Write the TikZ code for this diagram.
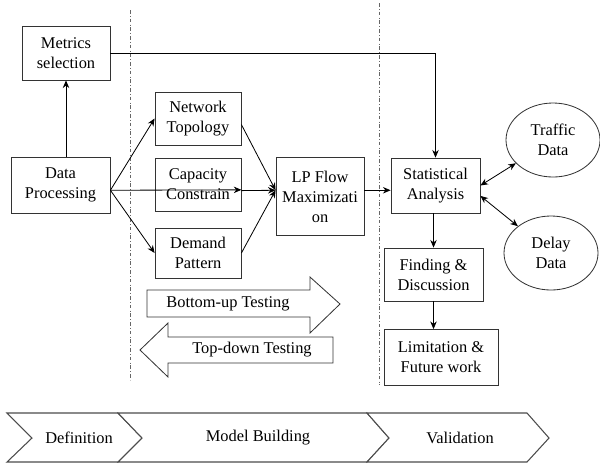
\documentclass[tikz,border=0pt]{standalone}
\usepackage{fontspec}
\setmainfont{Liberation Serif}
\usetikzlibrary{shapes.geometric,arrows.meta}

\begin{document}
\begin{tikzpicture}[x=0.03cm,y=-0.03cm,font=\fontsize{14}{17}\selectfont,
        >={Stealth[length=6.5pt,width=5.5pt]},
        box/.style={draw=black!80,line width=0.7pt,align=center,inner sep=0pt},
        oval/.style={ellipse,draw=black!80,line width=0.7pt,align=center,inner sep=0pt,minimum width=2.82cm,minimum height=2.22cm},
        link/.style={->,line width=0.7pt},
        both/.style={<->,line width=0.7pt},
        sep/.style={dash dot,black!60,line width=0.6pt},
        phase/.style={draw=black!70,line width=0.9pt,fill=white}]
        \useasboundingbox (0,0) rectangle (600,465);
        % phase separators
        \draw[sep](130,10)--(130,380);
        \draw[sep](379,3)--(379,385);
        % boxes
        \node[box,minimum width=2.64cm,minimum height=1.62cm](metrics)at(66,53){Metrics\\selection};
        \node[box,minimum width=2.97cm,minimum height=1.68cm](data)at(60.5,185){Data\\Processing};
        \node[box,minimum width=2.58cm,minimum height=1.59cm](topo)at(198,118.5){Network\\Topology};
        \node[box,minimum width=2.58cm,minimum height=1.59cm](cap)at(198,184.5){Capacity\\Constrain};
        \node[box,minimum width=2.58cm,minimum height=1.5cm](demand)at(198,253){Demand\\Pattern};
        \node[box,minimum width=2.64cm,minimum height=2.34cm](lp)at(320,196.5){LP Flow\\Maximizati\\on};
        \node[box,minimum width=2.67cm,minimum height=1.65cm](stat)at(435.5,185.5){Statistical\\Analysis};
        \node[box,minimum width=2.97cm,minimum height=1.59cm](find)at(433.5,274.5){Finding \&\\Discussion};
        \node[box,minimum width=3.42cm,minimum height=1.68cm](limit)at(441,357.5){Limitation \&\\Future work};
        \node[oval](traffic)at(553,140){Traffic\\Data};
        \node[oval](delay)at(551,253){Delay\\Data};
        % connectors
        \draw[link](metrics.south|-data.north)--(metrics.south);
        \draw[link](data.-6)--(topo.west);
        \draw[link](data.-6)--(cap.-7);
        \draw[link](data.-6)--(demand.west);
        \draw[link](topo.-8)--(lp.172);
        \draw[link](cap.-8)--(lp.172);
        \draw[link](demand.east)--(lp.172);
        \draw[link](lp.8)--(lp.8-|stat.west);
        \draw[link](metrics.east)-|(stat.north);
        \draw[both](stat.0)--(traffic);
        \draw[both](stat.-13)--(delay);
        \draw[link](find.north|-stat.south)--(find.north);
        \draw[link](find.south)--(find.south|-limit.north);
        % testing arrows
        \draw[line width=0.7pt,draw=black!80,fill=white](147,290)--(310,290)--(310,277)--(340,304)--(310,333)--(310,317)--(147,317)--cycle;
        \node(bottomup)at(228,304){Bottom-up Testing};
        \draw[line width=0.7pt,draw=black!80,fill=white](333,337)--(168,337)--(168,323)--(140,350)--(168,377)--(168,363)--(333,363)--cycle;
        \node(topdown)at(252,350){Top-down Testing};
        % phases
        \draw[phase](7,413)--(118,413)--(142,438)--(118,462)--(7,462)--(32,438)--cycle;
        \node(definition)at(79,438){Definition};
        \draw[phase](118,413)--(367,413)--(389,438)--(367,462)--(118,462)--(142,438)--cycle;
        \node(modelbuilding)at(258,438){Model Building};
        \draw[phase](367,413)--(527,413)--(549,438)--(527,462)--(367,462)--(389,438)--cycle;
        \node(validation)at(460,438){Validation};
    \end{tikzpicture}
\end{document}
